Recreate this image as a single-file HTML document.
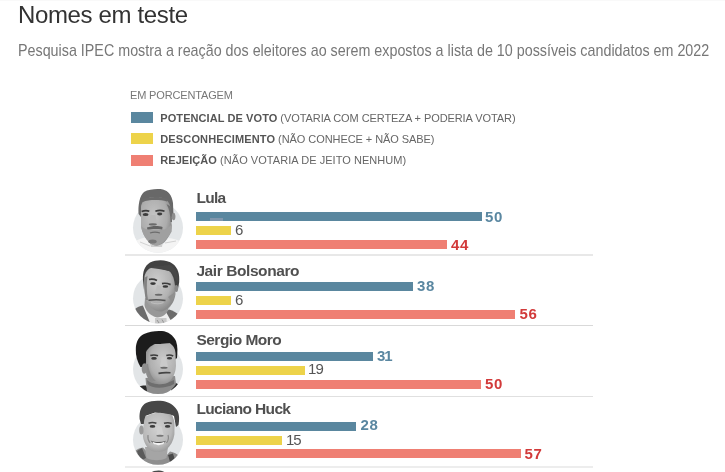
<!DOCTYPE html>
<html lang="pt-BR">
<head>
<meta charset="utf-8">
<title>Nomes em teste</title>
<style>
html,body{margin:0;padding:0;background:#fff;}
body{width:725px;height:472px;overflow:hidden;position:relative;font-family:"Liberation Sans",Arial,sans-serif;}
.a{position:absolute;white-space:nowrap;line-height:1;}
#topline{position:absolute;left:0;top:0;width:725px;height:1px;background:#f9f9f9;}
#title{left:18px;top:3px;font-size:24px;color:#333;letter-spacing:-0.35px;}
#sub{left:18px;top:43px;font-size:15.7px;color:#777;transform-origin:0 0;transform:scaleX(0.9122);}
#unit{left:130px;top:90px;font-size:11px;color:#777;letter-spacing:-0.15px;}
.sw{position:absolute;left:131px;width:22px;height:11px;}
.lg{left:160.3px;font-size:11px;color:#666;letter-spacing:-0.03px;}
.lg b{color:#555;}
.bar{position:absolute;left:196.3px;height:9px;}
.bl{background:#5a879f;}
.ye{background:#edd34a;}
.re{background:#ef7f73;}
.nm{left:196.4px;font-size:15.5px;font-weight:bold;color:#505050;letter-spacing:-0.35px;}
.vb{font-size:15px;letter-spacing:0.6px;font-weight:bold;color:#5a87a1;}
.vy{font-size:15px;color:#555;}
.vr{font-size:15px;letter-spacing:0.6px;font-weight:bold;color:#d23a3a;}
.sep{position:absolute;left:125px;width:468px;height:1px;background:#dedede;}
#ph{position:absolute;left:0;top:0;width:725px;height:472px;}
</style>
</head>
<body>
<div id="topline"></div>
<svg id="ph" width="725" height="472" viewBox="0 0 725 472">
<defs>
<filter id="bl" x="-20%" y="-20%" width="140%" height="140%"><feGaussianBlur stdDeviation="0.6"/></filter>
<filter id="bh" x="-20%" y="-20%" width="140%" height="140%"><feGaussianBlur stdDeviation="1.1"/></filter>
<radialGradient id="sk1" cx="0.42" cy="0.4" r="0.62"><stop offset="0" stop-color="#c4c4c4"/><stop offset="0.7" stop-color="#acacac"/><stop offset="1" stop-color="#8a8a8a"/></radialGradient>
<radialGradient id="sk2" cx="0.4" cy="0.32" r="0.68"><stop offset="0" stop-color="#cdcdcd"/><stop offset="0.65" stop-color="#b3b3b3"/><stop offset="1" stop-color="#8a8a8a"/></radialGradient>
<radialGradient id="sk3" cx="0.58" cy="0.4" r="0.68"><stop offset="0" stop-color="#cacaca"/><stop offset="0.65" stop-color="#b0b0b0"/><stop offset="1" stop-color="#868686"/></radialGradient>
<radialGradient id="sk4" cx="0.45" cy="0.4" r="0.65"><stop offset="0" stop-color="#d0d0d0"/><stop offset="0.7" stop-color="#b9b9b9"/><stop offset="1" stop-color="#959595"/></radialGradient>
<clipPath id="c1"><circle cx="158" cy="227.7" r="25"/></clipPath>
<clipPath id="c2"><circle cx="158" cy="298.4" r="25"/></clipPath>
<clipPath id="c3"><circle cx="158" cy="369.1" r="25"/></clipPath>
<clipPath id="c4"><circle cx="158" cy="439.8" r="25"/></clipPath>
</defs>

<!-- LULA -->
<circle cx="158" cy="227.7" r="25" fill="#e3e6e8"/>
<g clip-path="url(#c1)" filter="url(#bl)">
  <path d="M128,258 L132,244 C136,240 141,238 146,237.5 L151,243 L156,247 L163,244.5 L168.5,238 C173,238.5 178,240 184,243 L188,258 Z" fill="#f4f4f4"/>
  <path d="M140,242 L150,246 M165,243 L176,241" stroke="#d2d2d2" stroke-width="1" fill="none"/>
  <path d="M149,240 L163,240 L162,247 L151,247 Z" fill="#cfcfcf"/>
</g>
<g filter="url(#bl)">
  <path d="M138.6,214 C138,205 139.5,196 144,192 C149,189 158,188.6 163,189.5 C168,191 172,195 173,203 L173.5,217 L170,217 L170,207 C166,200 160,198 155,198 C148,198 143,201 141.5,207 L141,217 Z" fill="#686868"/>
  <path d="M141,206 C142,200 148,197 156,197 C164,197 169.5,200.5 170.5,207.5 L171.5,222 C172,230 170,236 164.5,242 C160.5,245.5 156,246.2 152,244.5 C147,241 142,234 141,226 Z" fill="url(#sk1)"/>
  <path d="M142,199.5 C147,196.5 160,196 168,199 L167,201.5 C160,199.5 148,199.5 143,202 Z" fill="#6a6a6a"/>
  <path d="M166.5,204 C169,208 170.5,214 170.5,222 L172,222 L171.5,207 Z" fill="#6e6e6e"/>
  <path d="M141.6,211.6 Q145.5,209.8 149.3,211.2 M155.4,211.2 Q160,209.5 164.5,211.2" stroke="#3a3a3a" stroke-width="1.7" fill="none"/>
  <ellipse cx="145.6" cy="214.6" rx="2.9" ry="1.5" fill="#3c3c3c"/>
  <ellipse cx="159.7" cy="214" rx="2.6" ry="1.4" fill="#3c3c3c"/>
  <path d="M150.5,215 L149,222 C150,224.5 155,225 157,223.5 L155.5,215 Z" fill="#b9b9b9"/>
  <ellipse cx="152.8" cy="224.4" rx="4" ry="1.1" fill="#6a6a6a"/>
  <path d="M141,226 C142,232 145,238 148,241 C151,244.5 155,246.2 158,245.5 C163,243.5 168,238 171.7,231.5 L172,224 C168,228.5 165,230 162.5,229.5 L147.5,229.5 C145,229 143,228 141,226 Z" fill="#a0a0a0"/>
  <path d="M146.9,227.6 C151,225.8 158,225.4 162.6,227 L162.2,229.4 C157,228.6 151,228.9 147.4,229.6 Z" fill="#646464"/>
  <path d="M150,233 C153,232 157,232 160,233" stroke="#6c6c6c" stroke-width="1.2" fill="none"/>
  <ellipse cx="152.5" cy="241.6" rx="4.2" ry="2" fill="#777"/>
  <ellipse cx="173.6" cy="216.5" rx="1.8" ry="3.8" fill="#8e8e8e"/>
</g>

<!-- BOLSONARO -->
<circle cx="158" cy="298.4" r="25" fill="#e2e5e7"/>
<g clip-path="url(#c2)" filter="url(#bl)">
  <path d="M128,330 L134,310 C137,307 140,306 143,305.5 L153,318 L156,330 Z" fill="#6c6c6c"/>
  <path d="M166,312 L169,309.5 C173,310.5 177,313 180,316 L190,330 L166,330 Z" fill="#6c6c6c"/>
  <path d="M142.7,305 C147,307 151,310 154,313 L162,314 L166,312 L170.5,320 L166,330 L153,330 Z" fill="#efefef"/>
  <path d="M155,318 L166.5,318 L167,330 L155,330 Z" fill="#c9c9c9"/>
  <path d="M157,320 L159,323 M162,319.5 L164,323" stroke="#888" stroke-width="0.8"/>
</g>
<g filter="url(#bl)">
  <path d="M144.5,305 C145,310 150,316 157,317.5 C163,317 167,314 168.5,309 L168.5,300 L145,298 Z" fill="#989898"/>
  <path d="M143,280 C142.5,272 144.5,266 150,262.5 C157,259.3 167,259.5 173,264 C178,268 179.8,274 179.2,282 L178,289 L175,290 L171,276 C166,272 158,270 150,270 L146,276 L144,290 Z" fill="#434343"/>
  <path d="M144.5,276 C146,270 150,267.5 154,267.5 C160,268 166,270 170,271.5 C173,275 174.5,280 175,286 L175.5,294 C174.5,302 170,309 162,311.5 C155,312 149,307 146,300 C144.5,294 143.8,286 144.5,276 Z" fill="url(#sk2)"/>
  <path d="M147.7,267.4 C155,268.2 163,269.5 169.8,271.2 C173,273 175,276 176,280 L178.5,282 C178,275 176,268 170,265 Z" fill="#474747"/>
  <path d="M144,278 C144,286 144.5,294 146,300 L148,300 C146.5,292 146.5,284 147.5,276 Z" fill="#828282"/>
  <path d="M149,279.5 Q153,278.4 157,280.5 M162,283.6 Q166,282.6 170.6,284.6" stroke="#3c3c3c" stroke-width="1.7" fill="none"/>
  <ellipse cx="153" cy="283.6" rx="2.8" ry="1.3" fill="#383838"/>
  <ellipse cx="165.4" cy="286.5" rx="2.8" ry="1.3" fill="#383838"/>
  <path d="M157,285 L155,293 C157,295.5 161,295.5 162.5,294 L160.5,286 Z" fill="#bdbdbd"/>
  <ellipse cx="158.6" cy="294.8" rx="3.8" ry="1" fill="#6a6a6a"/>
  <path d="M148.5,300.2 C153,299.6 160,299.6 165.5,300.4" stroke="#555" stroke-width="1.5" fill="none"/>
  <path d="M151,302.5 C155,304 160,304 163.5,302.5" stroke="#bdbdbd" stroke-width="1.2" fill="none"/>
  <path d="M168,297 C171,300 172,304 169,309 L175,292 Z" fill="#8f8f8f"/>
  <ellipse cx="176.3" cy="288.5" rx="1.8" ry="3.6" fill="#888"/>
</g>

<!-- MORO -->
<circle cx="158" cy="369.1" r="25" fill="#e2e5e7"/>
<g clip-path="url(#c3)" filter="url(#bl)">
  <path d="M128,400 L136,388 C139,386 142,385.5 146,385.5 L150,392 L140,400 Z" fill="#2c2c2c"/>
  <path d="M172,383 C175,382.5 177,383.5 179,385 L186,400 L170,400 Z" fill="#2c2c2c"/>
  <path d="M145.5,378 L175,376 L176,384 C172,390 166,394 160,396 L148,396 C146.5,390 146,384 145.5,378 Z" fill="#8c8c8c"/>
  <path d="M147,380 C152,385 163,386 174,380 L174,384 C165,389 152,389 147.5,384 Z" fill="#6e6e6e"/>
</g>
<g filter="url(#bl)">
  <path d="M135.8,349 C136,341 139,336.5 144,334 C149,331.5 156,330.5 162,331 C168,331.5 173,335 176,341 C178,347 177.5,352 177,358 L174.5,360 L174,349 L170,343.5 L155,344.3 L147.3,351.2 L146.5,360 L145,367 L140.5,367 C137.5,362 135.5,356 135.8,349 Z" fill="#1f1f1f"/>
  <path d="M146,352 C148,348 152,345 155,344.3 L170,343.5 C173,345 175,348 175.5,353 L176,366 C175.5,373 173,379 168,382.5 C164,384.5 159,384.5 155,383.5 C150,381.5 146.5,378 146,372 Z" fill="url(#sk3)"/>
  <ellipse cx="144.3" cy="368.5" rx="2.6" ry="5.3" fill="#8e8e8e"/>
  <path d="M150.3,355.6 Q154,354.2 158,355.8 M166.3,355.4 Q170,354.3 173.2,356" stroke="#3c3c3c" stroke-width="1.6" fill="none"/>
  <ellipse cx="154" cy="358.4" rx="2.8" ry="1.3" fill="#3a3a3a"/>
  <ellipse cx="169.5" cy="358.2" rx="2.6" ry="1.3" fill="#3a3a3a"/>
  <path d="M162,357 L160,366 C162,368 166,368 168,366.5 L165.5,357.5 Z" fill="#cacaca"/>
  <ellipse cx="164" cy="367.8" rx="3.6" ry="1" fill="#6a6a6a"/>
  <path d="M158.5,373.4 C162,372.6 166.5,372.4 170.5,372.8" stroke="#444" stroke-width="1.6" fill="none"/>
  <path d="M148,364 C149,372 152,378 156,381 L151,381 C148,376 146.5,370 146.5,364 Z" fill="#8a8a8a"/>
</g>

<!-- HUCK -->
<circle cx="158" cy="439.8" r="25" fill="#e2e5e7"/>
<g clip-path="url(#c4)" filter="url(#bl)">
  <path d="M128,470 L134,452 C137,449 140,448 143,447.5 L151,456 L166,456 L170,451.5 C174,452 177,454 179,456 L188,470 Z" fill="#8e8e8e"/>
  <path d="M137,451 L142,448 L146,458 L140,461 Z" fill="#5a5a5a"/>
  <path d="M168,455 L173,453.5 L175,460 L170,462 Z" fill="#4a4a4a"/>
  <path d="M145,447 L168,447 L166.5,458 C161,461 152,461 146.5,458 Z" fill="#a5a5a5"/>
</g>
<g filter="url(#bl)">
  <path d="M139.6,419 C139,411 141.5,405.5 146,403 C151,400.5 157,400.3 163,401 C169,402 174,405 177,410 C179.5,414 179.5,420 178.5,425 L176,427 L174,416 L171.7,415 L155,412.4 L145.7,415.8 L144.5,424 L141,424 Z" fill="#464646"/>
  <path d="M144,422 C144.5,417 146,415.8 148,415.5 C152,413 156,412.4 160,412.8 C165,413.3 169,414 171.7,415 C173.5,417 174.5,421 174.5,426 L174.4,434.5 C173.5,441 170.5,446 166,450 C162,452 156,452.5 152,451 C147,448 144,443 143,437 C142.8,432 143.2,427 144,422 Z" fill="url(#sk4)"/>
  <ellipse cx="141.4" cy="430" rx="2.2" ry="4.5" fill="#9a9a9a"/>
  <path d="M148.5,423.2 Q152.5,421.8 156.4,423.3 M164,423.3 Q168,422 171.7,423.5" stroke="#444" stroke-width="1.6" fill="none"/>
  <ellipse cx="152.5" cy="426.4" rx="2.8" ry="1.3" fill="#3c3c3c"/>
  <ellipse cx="167.6" cy="426.4" rx="2.7" ry="1.3" fill="#3c3c3c"/>
  <path d="M158,426 L156.5,434 C158,436 162,436 163.5,434.5 L161.5,426.5 Z" fill="#d0d0d0"/>
  <ellipse cx="160" cy="435.8" rx="3.6" ry="1" fill="#777"/>
  <path d="M150.6,440.4 C154,445.5 162,446.5 166,440.8 C161,442.5 155,442.5 150.6,440.4 Z" fill="#555"/>
  <path d="M152.5,441.6 C156,443.6 161,443.6 164.5,441.6 L163.5,444 C160,445.5 157,445.5 153.5,444 Z" fill="#f2f2f2"/>
  <path d="M148,435 C147.5,438 148.5,441 150,443 M168,435 C169,438 168,441 166.5,443" stroke="#8a8a8a" stroke-width="1.2" fill="none"/>
</g>
<path d="M150.5,473 C152,471 156,470.3 159,470.4 C162,470.6 164,471.4 165.5,473 Z" fill="#4a4a4a" filter="url(#bl)"/>
</svg>

<div class="a" id="title">Nomes em teste</div>
<div class="a" id="sub">Pesquisa IPEC mostra a reação dos eleitores ao serem expostos a lista de 10 possíveis candidatos em 2022</div>
<div class="a" id="unit">EM PORCENTAGEM</div>

<div class="sw bl" style="top:112px"></div>
<div class="a lg" style="top:113px;letter-spacing:-0.08px"><b style="letter-spacing:0.08px">POTENCIAL DE VOTO</b> (VOTARIA COM CERTEZA + PODERIA VOTAR)</div>
<div class="sw ye" style="top:133px"></div>
<div class="a lg" style="top:134px;letter-spacing:-0.07px"><b style="letter-spacing:0.13px">DESCONHECIMENTO</b> (NÃO CONHECE + NÃO SABE)</div>
<div class="sw re" style="top:155px"></div>
<div class="a lg" style="top:154.8px;letter-spacing:0.05px"><b>REJEIÇÃO</b> (NÃO VOTARIA DE JEITO NENHUM)</div>

<!-- Row 1 Lula -->
<div class="a nm" style="top:189.5px;letter-spacing:-0.7px">Lula</div>
<div class="bar bl" style="top:212.2px;width:285.3px"></div>
<div style="position:absolute;left:210.2px;top:217.8px;width:12.5px;height:3px;background:#8097ad"></div>
<div class="a vb" style="top:209px;left:485px">50</div>
<div class="bar ye" style="top:225.9px;width:34.6px"></div>
<div class="a vy" style="top:222.3px;left:235px">6</div>
<div class="bar re" style="top:239.9px;width:250.9px"></div>
<div class="a vr" style="top:237px;left:451px">44</div>
<div class="sep" style="top:254px;height:2px;background:#e8e8e8"></div>

<!-- Row 2 Bolsonaro -->
<div class="a nm" style="top:262.5px;letter-spacing:-0.42px">Jair Bolsonaro</div>
<div class="bar bl" style="top:281.8px;width:216.6px"></div>
<div class="a vb" style="top:277.5px;left:417px">38</div>
<div class="bar ye" style="top:295.8px;width:34.7px"></div>
<div class="a vy" style="top:292.3px;left:235px">6</div>
<div class="bar re" style="top:309.8px;width:319.2px"></div>
<div class="a vr" style="top:305.8px;left:519.5px">56</div>
<div class="sep" style="top:325px;background:#d9d9d9"></div>

<!-- Row 3 Moro -->
<div class="a nm" style="top:332.3px;letter-spacing:-0.5px">Sergio Moro</div>
<div class="bar bl" style="top:351.8px;width:176.6px"></div>
<div class="a vb" style="top:347.5px;left:377px;letter-spacing:-1px">31</div>
<div class="bar ye" style="top:365.6px;width:108.6px"></div>
<div class="a vy" style="top:361.3px;left:308px;letter-spacing:-0.8px">19</div>
<div class="bar re" style="top:379.6px;width:285.2px"></div>
<div class="a vr" style="top:376px;left:485px">50</div>
<div class="sep" style="top:395.5px;height:1.5px;background:#e0e0e0"></div>

<!-- Row 4 Huck -->
<div class="a nm" style="top:401.2px;letter-spacing:-0.64px">Luciano Huck</div>
<div class="bar bl" style="top:421.8px;width:159.8px"></div>
<div class="a vb" style="top:417px;left:360.5px">28</div>
<div class="bar ye" style="top:435.6px;width:85.8px"></div>
<div class="a vy" style="top:432.3px;left:286px;letter-spacing:-1px">15</div>
<div class="bar re" style="top:449px;width:325px"></div>
<div class="a vr" style="top:446px;left:524.5px">57</div>
<div class="sep" style="top:466px;height:1.5px;background:#ededed"></div>

</body>
</html>
